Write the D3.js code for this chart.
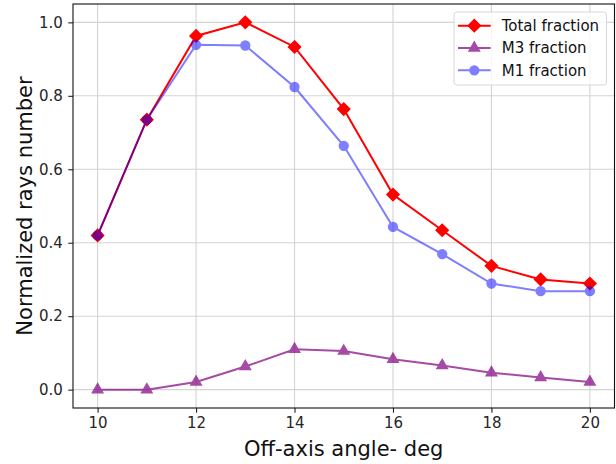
<!DOCTYPE html>
<html>
<head>
<meta charset="utf-8">
<script src="https://cdn.jsdelivr.net/npm/d3@7"></script>
<style>
  body { margin: 0; background: #fff; }
  svg { font-family: "DejaVu Sans", sans-serif; }
</style>
</head>
<body>
<div id="chart"></div>
<script>
const angles = [10, 11, 12, 13, 14, 15, 16, 17, 18, 19, 20];
const totalFraction = [0.42, 0.735, 0.963, 1.0, 0.933, 0.764, 0.531, 0.434, 0.337, 0.300, 0.289];
const m3Fraction = [0.0, 0.0, 0.021, 0.063, 0.110, 0.105, 0.083, 0.066, 0.046, 0.033, 0.021];
const m1Fraction = [0.42, 0.735, 0.939, 0.937, 0.824, 0.664, 0.443, 0.369, 0.289, 0.268, 0.268];
const xTicks = [10, 12, 14, 16, 18, 20];
const yTicks = [0.0, 0.2, 0.4, 0.6, 0.8, 1.0];

const width = 616,
  height = 464,
  margin = ({ top: 4, right: 1.5, bottom: 56, left: 73 });

const svg = d3.select("#chart")
  .append("svg")
  .attr("width", width)
  .attr("height", height);

let x = d3.scaleLinear()
  .domain([9.5, 20.5])
  .range([margin.left, width - margin.right]);

let y = d3.scaleLinear()
  .domain([-0.05, 1.05])
  .range([height - margin.bottom, margin.top]);

// grid
svg.append("g")
  .selectAll("line")
  .data(xTicks)
  .join("line")
    .attr("x1", d => x(d)).attr("x2", d => x(d))
    .attr("y1", y.range()[0]).attr("y2", y.range()[1])
    .attr("stroke", "#d4d4d4").attr("stroke-width", 1.1);

svg.append("g")
  .selectAll("line")
  .data(yTicks)
  .join("line")
    .attr("y1", d => y(d)).attr("y2", d => y(d))
    .attr("x1", x.range()[0]).attr("x2", x.range()[1])
    .attr("stroke", "#d4d4d4").attr("stroke-width", 1.1);

// axes
const xAxis = svg.append("g")
  .attr("transform", `translate(0,${height - margin.bottom})`)
  .call(d3.axisBottom(x).tickValues(xTicks).tickFormat(d3.format("d")).tickSize(4.7).tickSizeOuter(0).tickPadding(5));

const yAxis = svg.append("g")
  .attr("transform", `translate(${margin.left},0)`)
  .call(d3.axisLeft(y).tickValues(yTicks).tickFormat(d3.format(".1f")).tickSize(4.7).tickSizeOuter(0).tickPadding(5.5));

for (const g of [xAxis, yAxis]) {
  g.select(".domain").remove();
  g.selectAll(".tick line").attr("stroke", "#222").attr("stroke-width", 1.1);
  g.selectAll(".tick text")
    .attr("fill", "#262626")
    .style("font-size", "15px")
    .style("font-family", "DejaVu Sans");
}

// frame
svg.append("rect")
  .attr("x", margin.left)
  .attr("y", margin.top)
  .attr("width", width - margin.left - margin.right)
  .attr("height", height - margin.top - margin.bottom)
  .attr("fill", "none")
  .attr("stroke", "#111")
  .attr("stroke-width", 1.1);

svg.append("text")
  .attr("text-anchor", "middle")
  .attr("x", x(15))
  .attr("y", 456)
  .attr("fill", "#111")
  .style("font-size", "21px")
  .text("Off-axis angle- deg");

svg.append("text")
  .attr("text-anchor", "middle")
  .attr("transform", `translate(32,${(margin.top + height - margin.bottom) / 2}) rotate(-90)`)
  .attr("fill", "#111")
  .style("font-size", "21px")
  .text("Normalized rays number");

const series = [
  { name: "Total fraction", values: totalFraction, color: "#ff0000", opacity: 1, marker: "diamond" },
  { name: "M3 fraction", values: m3Fraction, color: "#800080", opacity: 0.7, marker: "triangle" },
  { name: "M1 fraction", values: m1Fraction, color: "#0000ff", opacity: 0.5, marker: "circle" }
];

const markerShape = {
  diamond: d3.symbol().type(d3.symbolDiamond2).size(95),
  triangle: d3.symbol().type(d3.symbolTriangle).size(48),
  circle: d3.symbol().type(d3.symbolCircle).size(62)
};

let line = d3.line()
  .x((d, i) => x(angles[i]))
  .y(d => y(d));

// each series: line then its markers, with the series alpha
for (const s of series) {
  const g = svg.append("g").attr("class", "series").style("opacity", s.opacity);
  g.append("path")
    .datum(s.values)
    .attr("d", line)
    .attr("fill", "none")
    .attr("stroke", s.color)
    .attr("stroke-width", 2);
  g.selectAll(".m")
    .data(s.values)
    .join("path")
      .attr("class", "m")
      .attr("transform", (d, i) => `translate(${x(angles[i])},${y(d)})`)
      .attr("d", markerShape[s.marker])
      .attr("fill", s.color)
      .attr("stroke", s.color)
      .attr("stroke-width", 1.4);
}

// legend
const legend = svg.append("g").attr("transform", "translate(454,12)");
legend.append("rect")
  .attr("width", 152.5)
  .attr("height", 73)
  .attr("rx", 3)
  .attr("fill", "white")
  .attr("fill-opacity", 0.8)
  .attr("stroke", "#d8d8d8")
  .attr("stroke-width", 1);

series.forEach((s, i) => {
  const row = legend.append("g")
    .attr("transform", `translate(0,${13.7 + i * 22.3})`);
  const h = row.append("g").style("opacity", s.opacity);
  h.append("line")
    .attr("x1", 4).attr("x2", 36.7)
    .attr("stroke", s.color).attr("stroke-width", 2);
  h.append("path")
    .attr("transform", "translate(20.3,0)")
    .attr("d", markerShape[s.marker])
    .attr("fill", s.color)
    .attr("stroke", s.color)
    .attr("stroke-width", 1.4);
  row.append("text")
    .attr("x", 47.7)
    .attr("dy", "0.35em")
    .attr("fill", "#111")
    .style("font-size", "15px")
    .text(s.name);
});
</script>
</body>
</html>
